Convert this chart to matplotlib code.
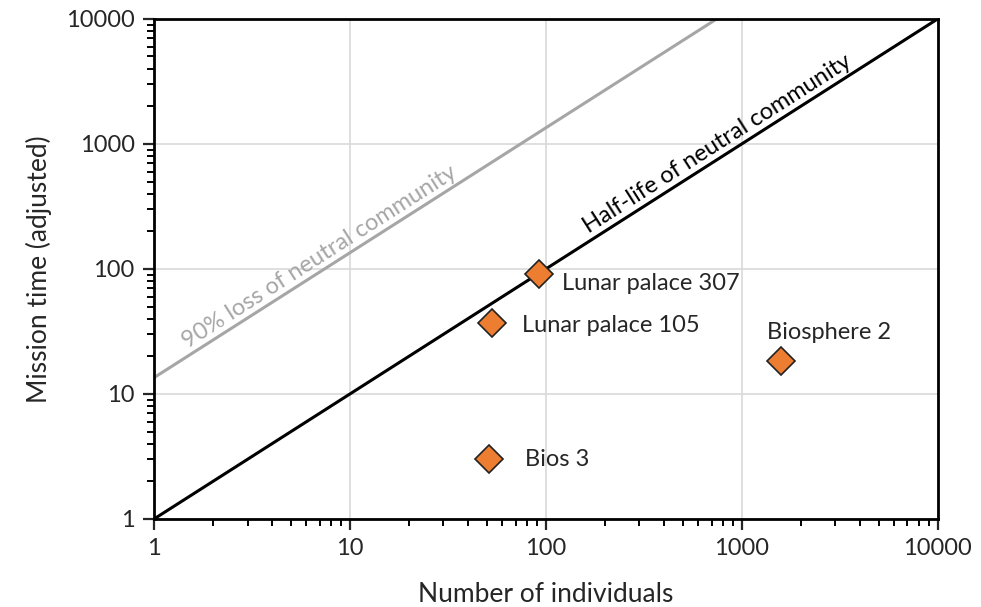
import math

import matplotlib
matplotlib.use("Agg")
import matplotlib.pyplot as plt
import numpy as np
from matplotlib.ticker import LogLocator, NullFormatter, FixedLocator

plt.rcParams["font.family"] = ["Lato", "DejaVu Sans"]

# habitat missions
names = ["Lunar palace 307", "Lunar palace 105", "Bios 3", "Biosphere 2"]
individuals = [92, 53, 51, 1580]
mission_time = [91, 37, 3, 18.5]

# reference lines: half-life (y = x) and 90% loss (y = 13.5 x)
line_x = [1, 10000]
half_life_y = [1, 10000]
loss90_x = [1, 745]
loss90_y = [13.5, 10000]

ticks = [1, 10, 100, 1000, 10000]
tick_labels = ["1", "10", "100", "1000", "10000"]

ORANGE = "#ED7D31"
GRID = "#d9d9d9"
TEXT = "#262626"

fig = plt.figure(figsize=(9.81, 6.07), dpi=100)
ax = fig.add_axes([0.157, 0.145, 0.799, 0.824])
ax.set_xscale("log")
ax.set_yscale("log")
ax.set_xlim(1, 10000)
ax.set_ylim(1, 10000)

ax.grid(True, which="major", color=GRID, linewidth=1.2)
ax.set_axisbelow(True)

ax.plot(loss90_x, loss90_y, color="#a6a6a6", linewidth=2.2, zorder=2)
ax.plot(line_x, half_life_y, color="black", linewidth=2.2, zorder=3)

ax.plot(individuals, mission_time, linestyle="none", marker="D", markersize=14,
        markerfacecolor=ORANGE, markeredgecolor="#222222", markeredgewidth=1.2, zorder=4)

offsets = {
    "Lunar palace 307": (17, -7),
    "Lunar palace 105": (22, -2),
    "Bios 3": (26, 0),
    "Biosphere 2": (-10, 20),
}
for n, x, y in zip(names, individuals, mission_time):
    dx, dy = offsets[n]
    ax.annotate(n, (x, y), xytext=(dx, dy), textcoords="offset points",
                ha="left", va="center", fontsize=17, color=TEXT)

# angle of a y ~ x line in display space
p0 = ax.transData.transform((1, 1))
p1 = ax.transData.transform((10, 10))
angle = math.degrees(math.atan2(p1[1] - p0[1], p1[0] - p0[0]))

ax.annotate("90% loss of neutral community", (7.5, 13.5 * 7.5), xytext=(0, 2),
            textcoords="offset points", rotation=angle, rotation_mode="anchor",
            ha="center", va="bottom", fontsize=17, color="#a6a6a6")
ax.annotate("Half-life of neutral community", (800, 800), xytext=(0, 2),
            textcoords="offset points", rotation=angle, rotation_mode="anchor",
            ha="center", va="bottom", fontsize=17, color="black")

for axis in (ax.xaxis, ax.yaxis):
    axis.set_major_locator(FixedLocator(ticks))
    axis.set_minor_locator(LogLocator(base=10, subs=np.arange(2, 10)))
    axis.set_minor_formatter(NullFormatter())
ax.set_xticklabels(tick_labels)
ax.set_yticklabels(tick_labels)

ax.tick_params(which="major", direction="out", length=8, width=1.6, labelsize=17,
               colors=TEXT, pad=6)
ax.tick_params(which="minor", direction="out", length=5, width=1.4)
for s in ax.spines.values():
    s.set_linewidth(2)
    s.set_color("black")

ax.set_xlabel("Number of individuals", fontsize=19, color=TEXT, labelpad=16)
ax.set_ylabel("Mission time (adjusted)", fontsize=19, color=TEXT, labelpad=10)

fig.savefig("out.png", dpi=100)
